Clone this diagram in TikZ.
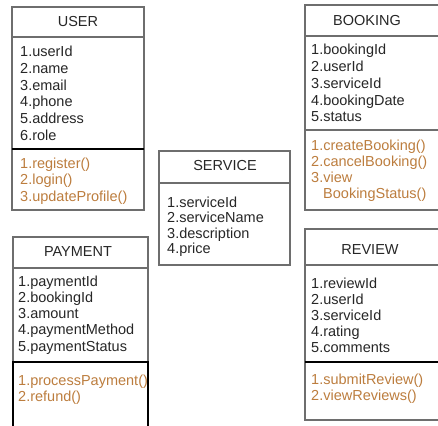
\documentclass[tikz,border=0pt]{standalone}
\usepackage{fontspec}
\setmainfont{Liberation Sans}
\definecolor{edge}{HTML}{6E6E6E}
\definecolor{optext}{HTML}{BC7D3E}
\definecolor{attrtext}{HTML}{262626}
\begin{document}
\begin{tikzpicture}[x=1pt, y=-1pt,
  box/.style={draw=edge, line width=1.1pt},
  bar/.style={draw=black, line width=1.8pt},
  head/.style={font=\fontsize{14.5}{16}\selectfont, text=attrtext, inner sep=0pt},
  attrs/.style={anchor=base west, inner sep=0pt, align=left, text width=130pt,
    text=attrtext, font=\fontsize{14.5}{#1}\selectfont},
  ops/.style={attrs=#1, text=optext}]
  \useasboundingbox (0,0) rectangle (438,425);
  % USER
  \draw[box] (12,7) rectangle (144,210);
  \draw[box] (12,37) -- (144,37);
  \draw[bar] (12,149) -- (144,149);
  \node[head] (user) at (78,22) {USER};
  \node[attrs=16.6] (user-attr) at (20,57)
    {1.userId\\2.name\\3.email\\4.phone\\5.address\\6.role};
  \node[ops=16.6] (user-ops) at (20,168)
    {1.register()\\2.login()\\3.updateProfile()};
  % BOOKING
  \draw[box] (305,5) rectangle (442,210);
  \draw[box] (305,36) -- (442,36);
  \draw[box] (305,130) -- (442,130);
  \node[head] (booking) at (367,21) {BOOKING};
  \node[attrs=16.7] (booking-attr) at (311,55)
    {1.bookingId\\2.userId\\3.serviceId\\4.bookingDate\\5.status};
  \node[ops=16] (booking-ops) at (311,150)
    {1.createBooking()\\2.cancelBooking()\\3.view\\\hspace*{12pt}BookingStatus()};
  % SERVICE
  \draw[box] (159,151) rectangle (290,265);
  \draw[box] (159,183) -- (290,183);
  \node[head] (service) at (225,166) {SERVICE};
  \node[attrs=15.6] (service-attr) at (167,207)
    {1.serviceId\\2.serviceName\\3.description\\4.price};
  % PAYMENT
  \draw[box] (13,430) -- (13,237) -- (148,237) -- (148,430);
  \draw[box] (13,268) -- (148,268);
  \draw[bar] (13,430) -- (13,362) -- (148,362) -- (148,430);
  \node[head] (payment) at (78,252) {PAYMENT};
  \node[attrs=16.3] (payment-attr) at (18,286)
    {1.paymentId\\2.bookingId\\3.amount\\4.paymentMethod\\5.paymentStatus};
  \node[ops=16] (payment-ops) at (18,385)
    {1.processPayment()\\2.refund()};
  % REVIEW
  \draw[box] (442,229) -- (305,229) -- (305,420) -- (442,420);
  \draw[box] (305,265) -- (442,265);
  \draw[bar] (305,362) -- (442,362);
  \node[head] (review) at (370,250) {REVIEW};
  \node[attrs=16] (review-attr) at (311,288)
    {1.reviewId\\2.userId\\3.serviceId\\4.rating\\5.comments};
  \node[ops=16.5] (review-ops) at (311,384)
    {1.submitReview()\\2.viewReviews()};
\end{tikzpicture}
\end{document}
